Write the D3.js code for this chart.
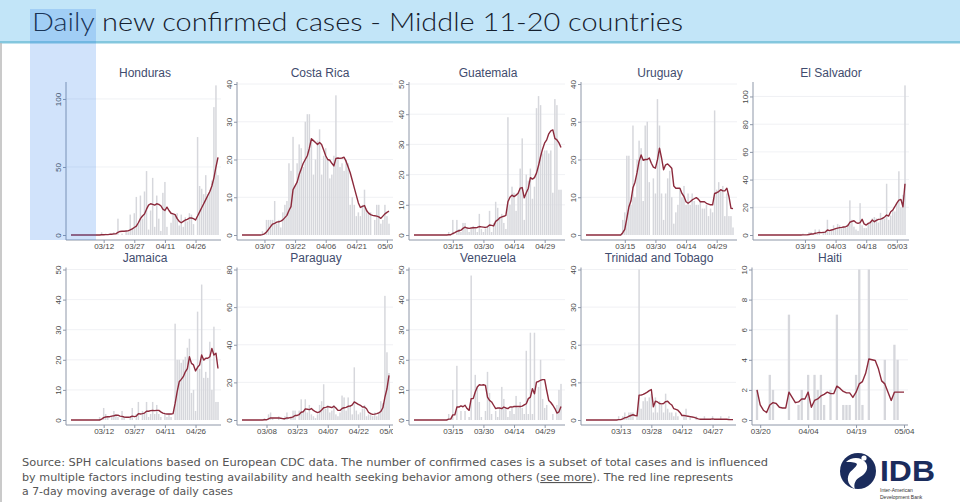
<!DOCTYPE html>
<html><head><meta charset="utf-8">
<script src="https://cdn.jsdelivr.net/npm/d3@7"></script>
<style>body{margin:0;background:#fff;}svg{display:block}</style>
</head><body>
<svg id="chart" width="960" height="502"></svg>
<script>
// ---------------- DATA ----------------
const countries = ["Honduras","Costa Rica","Guatemala","Uruguay","El Salvador",
  "Jamaica","Paraguay","Venezuela","Trinidad and Tobago","Haiti"];
const seriesStart = ["2020-02-25","2020-02-25","2020-02-25","2020-02-25","2020-02-25",
  "2020-02-25","2020-02-25","2020-02-25","2020-02-25","2020-03-19"];
const xTickLabels = [
  ["03/12","03/27","04/11","04/26"],
  ["03/07","03/22","04/06","04/21","05/06"],
  ["03/15","03/30","04/14","04/29"],
  ["03/15","03/30","04/14","04/29"],
  ["03/19","04/03","04/18","05/03"],
  ["03/12","03/27","04/11","04/26"],
  ["03/08","03/23","04/07","04/22","05/07"],
  ["03/15","03/30","04/14","04/29"],
  ["03/13","03/28","04/12","04/27"],
  ["03/20","04/04","04/19","05/04"]];
const yTicks = [[0,50,100],[0,10,20,30,40],[0,10,20,30,40,50],[0,10,20,30,40],[0,20,40,60,80,100],
  [0,10,20,30,40,50],[0,20,40,60,80],[0,10,20,30,40,50],[0,10,20,30,40],[0,2,4,6,8,10]];
const yTop = [111,40,50,40,109,50,80,50,40,10];

const z = n => new Array(n).fill(0);
const hondurasCases = [...z(15),2,0,1,0,1, 0,2,0,12,0, 1,0,3,2,15, 5,16,28,8,29, 12,32,47,4,18, 42,6,29,12,3, 31,39,6,0,9, 15,15,16,7,15, 6,13,10,16,15, 8,0,72,36,34, 30,44,30,32,40, 94,110,44];
const hondurasAvg = [...z(15),0.2,0.2,0.3,0.3,0.5, 0.6,0.8,0.8,2.0,2.6, 2.8,2.8,2.9,3.0,3.7, 4.5,5.5,6.5,9,12, 14,15.5,19,22,23, 22.5,22,23,22.5,21.5, 19,18,20.5,18,16, 15.5,15,12,10,9, 10,11,11.5,12.5,12.5, 12,11,14,17,20, 23,26,29,32,36, 42,50,57];
const costaRicaCases = [...z(10),1,0,4,4,4, 4,9,3,4,2, 6,8,9,19,17, 26,13,19,24,23, 18,30,32,32,25, 16,20,25,28,16, 21,23,20,15,16, 21,37,20,18,19, 17,20,19,8,10, 8,5,6,5,8, 12,7,6,6,0, 4,8,8,3,4, 8,5,3];
const costaRicaAvg = [...z(10),0.1,0.3,0.8,1.5,2.2, 2.9,3.1,3.4,3.5,3.7, 4,4.6,5.2,6.5,7.5, 12,13,14,16,17.5, 19,20,21,23,25.5, 25,24.5,24,24.5,24, 22.5,21,20,19.8,19, 18.3,20.3,20.4,20.3,20.4, 20.6,19.5,18,16.5,14.5, 12.5,10.5,8.5,7.3,7.6, 7.8,6.5,5.8,5.4,5.2, 5.1,5,4.8,4.4,5, 5.6,6,6.3];
const guatemalaCases = [...z(17),1,0,5, 0,5,2,1,4, 4,2,1,2,3, 2,1,7,2,1, 2,3,8,1,4, 11,9,6,7,4, 2,39,10,16,14, 8,14,22,32,5, 20,18,22,12,16, 42,46,43,27,28, 28,27,28,14,45, 43,15,15];
const guatemalaAvg = [...z(17),0.1,0.1,0.5, 0.8,1.2,1.4,1.6,2.2, 2.6,2.3,2.2,2.3,2.4, 2.4,2.5,2.8,2.7,2.6, 2.5,2.7,3.3,3.2,3, 4.5,5,5.7,6,6.2, 6.5,11,12.5,13.2,12.7, 13.2,13.8,15.5,15.7,12.3, 14,15.5,19,18.5,19, 20.5,23,26,28.5,30.5, 31.5,33.5,34.5,34.8,32, 31.5,30.5,29];
const uruguayCases = [...z(18),4,6, 21,21,8,29,10, 20,25,23,9,29, 30,14,0,15,11, 36,29,11,4,11, 15,17,10,3,6, 8,12,10,13,8, 11,8,11,9,8, 8,9,7,7,8, 5,7,6,33,12, 14,12,13,5,11, 5,5,2];
const uruguayAvg = [...z(18),0.6,1.5, 4.4,7.4,9,12.5,14, 16.5,19.5,21.2,19.8,20, 20,20.4,19,18,17.7, 19.9,23,20.4,17.3,18.6, 18.8,18.3,17.7,13,12.4, 12.4,12.4,11,10.2,8.8, 8.4,8.8,9.3,9.6,9.9, 9.5,8.8,8.8,8.8,8.4, 8.2,8,8,11,11.2, 11.5,12,11.7,11.7,12.4, 10.2,7.1,7];
const elSalvadorCases = [...z(22),1,0,0, 2,2,0,4,1, 4,0,2,3,11, 2,3,7,5,8, 7,5,6,5,8, 25,11,6,4,3, 23,7,5,5,8, 10,12,13,12,9, 16,13,12,37,11, 14,18,17,23,46, 20,29,108];
const elSalvadorAvg = [...z(22),0.1,0.1,0.1, 0.4,0.7,0.7,1.3,1.5, 1.9,1.7,1.9,2.1,3.6, 3.1,3.6,4,4.6,5, 5.3,5.5,5.8,6,6.7, 9.2,9.8,10.3,9,8.4, 9,11.3,8,7.2,8.4, 9,10.8,9.6,10.5,11.3, 11.5,12,13,14.4,13.7, 16.8,18,20.4,23,25.2, 25.7,20.4,37];
const jamaicaCases = [...z(14),1, 0,4,2,1,0, 1,3,2,1,0, 3,1,0,0,1, 4,0,2,6,0, 3,2,6,1,2, 6,2,5,2,1, 0,2,1,2,1, 0,32,20,20,19, 20,21,24,27,9, 10,3,36,17,45, 14,16,14,26,10, 31,6,6];
const jamaicaAvg = [...z(15),0.3,0.8,1,1.1,1.1, 1.3,1.4,1.6,1.6,1.3, 1.2,1,0.9,0.9,1, 1.3,1.1,1.3,2.1,2, 2.1,2.3,2.9,2.9,3.1, 3.2,3.1,3.2,3.2,2.7, 2.3,2.1,2,2,2, 2.1,5.5,9.4,12.7,13.5, 14.4,16,17.1,21,18.8, 18.3,16.3,17.5,18.3,21.6, 19.9,20.5,20.5,21,23.8, 21.6,22.2,17.1];
const paraguayCases = [...z(11),1,0,3,4, 1,0,0,2,0, 0,2,4,0,1, 5,5,0,5,11, 4,11,4,8,3, 2,1,3,8,10, 19,6,8,4,5, 8,3,2,4,13, 12,5,12,8,3, 28,5,3,4,6, 8,2,3,3,2, 4,2,4,10,9, 66,36,25];
const paraguayAvg = [...z(11),0.1,0.1,0.6,1.1, 1.1,1.1,1.1,1.1,0.9, 0.7,0.7,1.1,1.1,1.3, 1.7,2.4,2.4,2.9,4.1, 4.4,5.9,5.7,5.5,6.1, 5.1,4.4,3.9,4.3,5.3, 6.5,6.7,7.1,6.9,6.6, 7.3,6.4,5.1,5.1,6.1, 6.5,6.7,7.3,7.4,8, 9.6,9,8.3,7.8,6.9, 6.9,6,4,3.4,3, 3.1,3.4,3.8,4.5,6.5, 12.2,16.6,23.7];
const venezuelaCases = [...z(17),2,0,10, 0,18,0,3,0, 3,0,1,48,0, 15,11,6,1,0, 3,16,9,2,0, 3,1,4,11,7, 4,1,3,4,2, 8,4,6,4,2, 23,2,29,2,29, 0,11,20,7,4, 5,0,0,2,0, 5,10,12];
const venezuelaAvg = [...z(17),0.3,0.3,1.7, 1.7,4.3,4.3,4.7,4.4, 4.9,3.8,3.2,7.1,7.1, 9.3,11,11.7,11.6,11.7, 11.5,7.6,6.5,6,4.9, 3.8,4,4,3.8,4.3, 4,3.8,4.3,4.3,4.5, 4.5,4.5,4.5,4.6,5, 5.4,7.1,7.6,10.4,8.7, 12.6,12.8,13.2,13.4,13.4, 9.8,6.5,5.8,4.9,3.8, 2.3,2.7,4.5];
const trinidadCases = [...z(16),1,0,1,2, 1,2,2,2,0, 1,40,3,5,6, 5,6,7,2,6, 2,5,4,2,7, 3,2,2,1,2, 1,0,0,1,3, 0,1,0,0,1, 0,0,0,1,0, 0,0,1,0,0, 0,1,0,0,0, 1,0,0];
const trinidadAvg = [...z(16),0.1,0.1,0.3,0.6, 0.7,1,1.2,1.4,1.2, 1.1,6.6,6.6,6.8,7.1, 7.4,7.8,8.1,3.5,5, 4.8,4.4,4.3,4.4,4.9, 5,4.4,4,3,2.8, 2.6,2,1.2,1.2,1.1, 1,0.9,0.8,0.7,0.5, 0.3,0.2,0.2,0.2,0.2, 0.2,0.2,0.3,0.2,0.2, 0.2,0.2,0.2,0.2,0.2, 0.1,0.1,0.1];
const haitiCases = [2,0,0,0,3, 2,0,0,0,0, 7,0,0,1,2, 0,3,0,3,2, 3,1,0,2,0, 7,0,1,1,1, 0,3,10,1,0, 10,0,0,0,0, 4,0,0,5,4, 0,0];
const haitiAvg = [2,1,0.65,0.5,1, 1.15,1.1,0.85,0.8,0.8, 1.85,1.5,1.15,1.2,1.4, 1.4,1.85,0.85,1.3,1.4, 1.6,1.7,1.85,1.75,1.75, 2.25,2.1,1.9,1.8,1.8, 1.5,1.85,2.4,2.55,3.1, 4.05,4,3.95,3.4,2.6, 2.4,1.85,1.3,1.85,1.85, 1.85,1.85];

const caseSeries = [hondurasCases,costaRicaCases,guatemalaCases,uruguayCases,elSalvadorCases,
  jamaicaCases,paraguayCases,venezuelaCases,trinidadCases,haitiCases];
const avgSeries = [hondurasAvg,costaRicaAvg,guatemalaAvg,uruguayAvg,elSalvadorAvg,
  jamaicaAvg,paraguayAvg,venezuelaAvg,trinidadAvg,haitiAvg];

const titleText = "Daily new confirmed cases - Middle 11-20 countries";
const footerLines = [
  "Source: SPH calculations based on European CDC data. The number of confirmed cases is a subset of total cases and is influenced",
  ["by multiple factors including testing availability and health seeking behavior among others (", "see more", "). The red line represents"],
  "a 7-day moving average of daily cases"];

// ---------------- LAYOUT / STYLE ----------------
const svg = d3.select("#chart");
const colAxisX = [66,237,409,581,753];
const titleX = [145,320,488,660,831,145,316,488,659,830];
const rowGeom = [
  {zeroY:235, topY:84, axisY:240, titleY:77, labelY:249, bgTop:58, bgBottom:252},
  {zeroY:420, topY:269.5, axisY:425, titleY:262, labelY:434, bgTop:252, bgBottom:447}];
const barColor = "#d6d7dc", lineColor = "#8c2a3c", axisColor = "#8e97a8",
      gridColor = "#eceef1", tickTextColor = "#4a4a4a", panelTitleColor = "#3f4c6e";
const parse = d3.timeParse("%Y-%m-%d");
const parseTick = d3.timeParse("%Y/%m/%d");

// header band
svg.append("rect").attr("x",0).attr("y",0).attr("width",960).attr("height",42).attr("fill","#c2e5f8");
svg.append("rect").attr("x",0).attr("y",41).attr("width",960).attr("height",2.5).attr("fill","#84c7de");
svg.append("line").attr("x1",1).attr("x2",1).attr("y1",43).attr("y2",502).attr("stroke","#b8b8b8").attr("stroke-width",1.5);

countries.forEach((name,k)=>{
  const col = k%5, row = Math.floor(k/5), g = rowGeom[row];
  const ax = colAxisX[col] - (k===9?1:0);
  const grp = svg.append("g");
  grp.append("rect").attr("x",ax-16).attr("y",g.bgTop).attr("width",175).attr("height",g.bgBottom-g.bgTop).attr("fill","#fff");
  const start = parse(seriesStart[k]);
  const cases = caseSeries[k], avg = avgSeries[k];
  const dates = cases.map((_,i)=>d3.timeDay.offset(start,i));
  const x = d3.scaleTime().domain([dates[0], dates[dates.length-1]]).range([ax+5, ax+152]);
  const y = d3.scaleLinear().domain([0,yTop[k]]).range([g.zeroY, g.topY]);
  const dayW = (x.range()[1]-x.range()[0])/(dates.length-1);
  const bw = dayW*0.72;
  // grid
  grp.selectAll(".grid").data(yTicks[k].filter(v=>v>0)).join("line")
    .attr("x1",ax).attr("x2",ax+156).attr("y1",d=>y(d)).attr("y2",d=>y(d))
    .attr("stroke",gridColor).attr("stroke-width",0.8);
  // bars
  grp.selectAll(".bar").data(cases.map((v,i)=>({v,d:dates[i]})).filter(o=>o.v>0)).join("rect")
    .attr("x",o=>x(o.d)-bw/2).attr("width",bw)
    .attr("y",o=>y(o.v)).attr("height",o=>g.zeroY-y(o.v)).attr("fill",barColor);
  // line
  grp.append("path").datum(avg.map((v,i)=>({v,d:dates[i]})))
    .attr("d", d3.line().x(o=>x(o.d)).y(o=>y(o.v)))
    .attr("fill","none").attr("stroke",lineColor).attr("stroke-width",1.4).attr("stroke-linejoin","round");
  // y axis
  grp.append("line").attr("x1",ax).attr("x2",ax).attr("y1",g.axisY).attr("y2",g.topY-2).attr("stroke",axisColor).attr("stroke-width",1);
  const yA = grp.append("g").attr("transform",`translate(${ax},0)`)
    .call(d3.axisLeft(y).tickValues(yTicks[k]).tickSize(3).tickFormat(d3.format("d")));
  yA.select(".domain").remove();
  yA.selectAll("line").attr("stroke",axisColor);
  yA.selectAll("text").attr("x",0).attr("y",-5).attr("dy",null).attr("transform","rotate(-90)")
    .attr("text-anchor","middle").attr("fill",tickTextColor).style("font","8px 'Liberation Sans', Arial, sans-serif");
  // x axis
  grp.append("line").attr("x1",ax).attr("x2",ax+156).attr("y1",g.axisY).attr("y2",g.axisY).attr("stroke",axisColor).attr("stroke-width",1);
  const tickDates = xTickLabels[k].map(s=>parseTick("2020/"+s));
  const xA = grp.append("g").attr("transform",`translate(0,${g.axisY})`)
    .call(d3.axisBottom(x).tickValues(tickDates).tickSize(3).tickFormat(d3.timeFormat("%m/%d")));
  xA.select(".domain").remove();
  xA.selectAll("line").attr("stroke",axisColor);
  xA.selectAll("text").attr("y",g.labelY-g.axisY).attr("dy",null).attr("fill",tickTextColor)
    .style("font","8px 'Liberation Sans', Arial, sans-serif");
  // title
  grp.append("text").attr("x",titleX[k]).attr("y",g.titleY).attr("text-anchor","middle")
    .attr("fill",panelTitleColor).style("font","12px 'Liberation Sans', Arial, sans-serif").text(name);
});

// header title
svg.append("text").attr("x",32).attr("y",31).attr("textLength",651).attr("lengthAdjust","spacingAndGlyphs")
  .attr("fill","#15202e").style("font","300 25px Lato, 'Open Sans', sans-serif").text(titleText);
// selection highlight overlay
svg.append("rect").attr("x",30).attr("y",9).attr("width",66).attr("height",231)
  .attr("fill","#2f80ed").attr("opacity",0.22);

// footer
const ff = "'Liberation Sans Narrow','DejaVu Sans Condensed','Liberation Sans',sans-serif";
const fy = [466,481,495], fl = [746,711,211];
footerLines.forEach((ln,i)=>{
  const t = svg.append("text").attr("x",22).attr("y",fy[i]).attr("textLength",fl[i]).attr("lengthAdjust","spacingAndGlyphs")
    .attr("fill","#555").style("font","11px "+ff);
  if (Array.isArray(ln)) {
    ln.forEach((s,j)=>{ const ts=t.append("tspan").text(s); if(j===1) ts.attr("text-decoration","underline"); });
  } else t.text(ln);
});

// IDB logo
const logo = svg.append("g");
logo.append("circle").attr("cx",858).attr("cy",471).attr("r",18).attr("fill","#1b2c5c");
logo.append("path").attr("d","M846,462 C852,456 862,457 866,463 C869,468 866,474 860,477 C856,479 853,484 855,489 C849,486 846,480 849,474 C851,470 856,468 857,464 C855,462 850,462 846,462 Z").attr("fill","#fff");
logo.append("circle").attr("cx",864).attr("cy",458).attr("r",2.6).attr("fill","#fff");
logo.append("text").attr("x",880).attr("y",481).attr("textLength",55).attr("lengthAdjust","spacingAndGlyphs")
  .attr("fill","#1b2c5c").style("font","bold 29px 'Liberation Sans', Arial, sans-serif").text("IDB");
logo.append("text").attr("x",880).attr("y",492).attr("fill","#333").style("font","5px 'Liberation Sans', Arial, sans-serif").text("Inter-American");
logo.append("text").attr("x",880).attr("y",498.5).attr("fill","#333").style("font","5px 'Liberation Sans', Arial, sans-serif").text("Development Bank");
</script>
</body></html>
